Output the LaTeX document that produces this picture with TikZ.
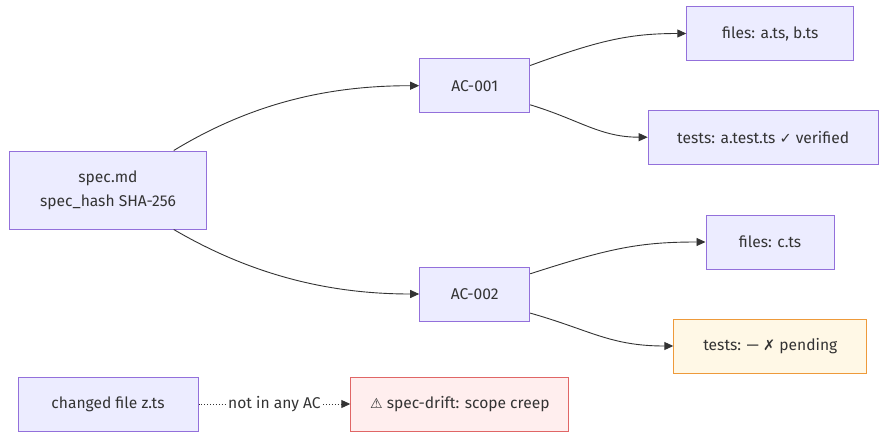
\documentclass[tikz,border=0pt]{standalone}
\usepackage{fontspec}
\setmainfont{Fira Sans}
\newfontfamily\symfont{DejaVu Sans}
\usetikzlibrary{arrows.meta}

\definecolor{boxfill}{HTML}{ECECFF}
\definecolor{boxline}{HTML}{9370DB}
\definecolor{pendfill}{HTML}{FFF8E6}
\definecolor{pendline}{HTML}{EE9A3A}
\definecolor{driftfill}{HTML}{FFEEEE}
\definecolor{driftline}{HTML}{E06666}
\definecolor{inktext}{HTML}{333333}

\tikzset{
  specbox/.style={draw=boxline, fill=boxfill, line width=1pt, text=inktext,
    minimum height=54pt, inner sep=0pt, font=\fontsize{15.6}{24}\selectfont, align=center},
  pendbox/.style={specbox, draw=pendline, fill=pendfill},
  driftbox/.style={specbox, draw=driftline, fill=driftfill},
  link/.style={draw=inktext, line width=0.9pt, -{Triangle[length=9pt,width=8pt]}},
}

\begin{document}
\begin{tikzpicture}[x=1pt,y=-1pt]
  \useasboundingbox (0,0) rectangle (880,433);
  % requirement source
  \node [specbox, minimum width=197pt, minimum height=78pt] (spec) at (108,190) {spec.md\\spec\_hash SHA-256};
  % acceptance criteria
  \node [specbox, minimum width=110pt] (acone) at (474.7,85.7) {AC-001};
  \node [specbox, minimum width=110pt] (actwo) at (474.7,294) {AC-002};
  % evidence
  \node [specbox, minimum width=167pt] (filesone) at (770.3,33.5) {files: a.ts, b.ts};
  \node [specbox, minimum width=230pt] (testsone) at (763.2,137.2) {tests: a.test.ts {\symfont\fontsize{14.5}{15}\selectfont ✓} verified};
  \node [specbox, minimum width=128pt] (filestwo) at (770,242) {files: c.ts};
  \node [pendbox, minimum width=193pt] (teststwo) at (770.3,346) {tests: — {\symfont\fontsize{14.5}{15}\selectfont ✗} pending};
  % drift
  \node [specbox, minimum width=180pt] (changed) at (108,404) {changed file z.ts};
  \node [driftbox, minimum width=218pt] (drift) at (459.8,404) {{\symfont\fontsize{14}{15}\selectfont ⚠} spec-drift: scope creep};

  \draw [link] (spec.31) .. controls (260,98) and (340,85.7) .. (acone.west);
  \draw [link] (spec.-31) .. controls (260,280) and (340,294) .. (actwo.west);
  \draw [link] (acone.20) .. controls (600,40) and (630,33.5) .. (filesone.west);
  \draw [link] (acone.-19) .. controls (580,120) and (600,137.2) .. (testsone.west);
  \draw [link] (actwo.20) .. controls (610,248) and (640,242) .. (filestwo.west);
  \draw [link] (actwo.-19) .. controls (590,330) and (610,346) .. (teststwo.west);
  \draw [link, dotted] (changed) -- node [fill=white, text=inktext, inner sep=1pt, font=\fontsize{15.6}{18}\selectfont] {not in any AC} (drift);
\end{tikzpicture}
\end{document}
